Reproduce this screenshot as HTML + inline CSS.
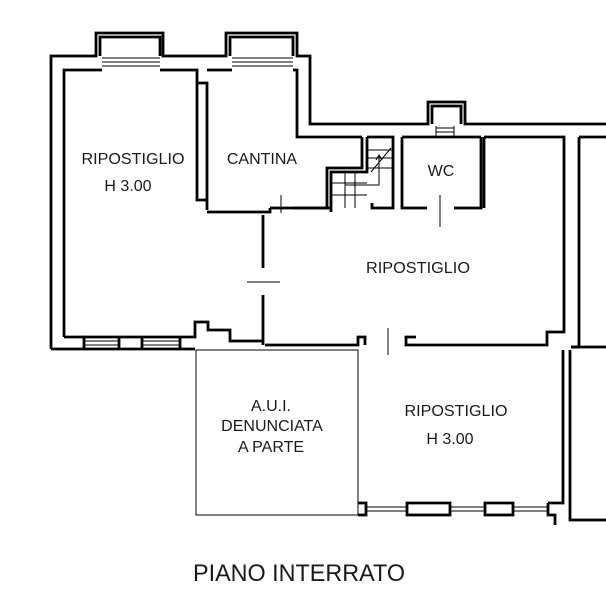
<!DOCTYPE html>
<html><head><meta charset="utf-8"><style>
html,body{margin:0;padding:0;background:#fff;width:606px;height:600px;overflow:hidden}
text{font-family:"Liberation Sans",sans-serif;fill:#1a1a1a}
</style></head><body>
<svg width="606" height="600" viewBox="0 0 606 600" xmlns="http://www.w3.org/2000/svg">
<g fill="none" stroke="#000" stroke-width="2.8" stroke-linejoin="miter">
<path d="M51,349 V56 H96 V33 H163 V56 H226 V33 H297 V56 H310 V124 H428 V102 H465 V124 H606"/>
<path d="M100,56 V37 H160 V56 M230,56 V37 H293 V56 M432,124 V106 H461 V124"/>
<path d="M64,337 V70 H102 M160,70 H197 V83 H207 V210 M197,83 V200 H207"/>
<path d="M207,70 H232 M293,70 V70 H297 V137 H362"/>
<path d="M362,137 V168 H327 V208 H270 M367,137 V172 H331 V212 M367,137 H393 V208 H372 V203"/>
<path d="M270,208 V212 H207" />
<path d="M292,208 H331"/>
<path d="M402,137 V208 H427 M436,137 H402 M454,208 H481 V137 M484,137 V208 M481,137 H436"/>
<path d="M484,137 H564 V332 H547 V345 H406 V337 H416"/>
<path d="M579,137 H606 M579,137 V347 H571"/>
<path d="M263,215 V268 M263,295 V345"/>
<path d="M265,345 H358 V337 H365 V345"/>
<path d="M51,349 H84 V337 H64 M180,337 H195 V322 H208 V330 H230 V341 H263 M180,337 V349 H195"/>
<path d="M84,337 H119 V349 H84 M142,337 H180 M119,337 H142 V349 H119 M142,349 H180"/>
<path d="M358,503 H366 V515 H358 M366,503 V515 M407,503 H450 V515 H407 Z M485,503 H513 V515 H485 Z M548,503 H563 V350 M548,503 V515 H555 V525 M570,350 V520 H606 M571,347 H606"/>
</g>
<g stroke="#000" stroke-width="1" fill="none">
<path d="M102,58 H160 M102,62 H160 M102,66 H160 M232,58 H293 M232,62 H293 M232,66 H293"/>
<path d="M436,126 V137 M454,126 V137 M436,128 H454 M436,132 H454"/>
<path d="M84,341 H119 M84,345 H119 M142,341 H180 M142,345 H180"/>
<path d="M366,507 H407 M366,511 H407 M450,507 H485 M450,511 H485 M513,507 H548 M513,511 H548"/>
<rect x="196" y="350" width="162" height="165"/>
<path d="M281,195 V213 M247,282 H280 M440,195 V227 M388,328 V355"/>
<path d="M331,195 H367 M331,183 H367 M367,168 H393 M367,158 H393 M367,150 H393 M371,172 L391,148 M345,172 V208 M355,172 V208 M345,185 H379 V155 M376,160 L379,155 L382,160 M331,195 H345"/>
</g>
<g font-size="16">
<text x="133" y="164" text-anchor="middle" textLength="103" lengthAdjust="spacingAndGlyphs">RIPOSTIGLIO</text>
<text x="128" y="191" text-anchor="middle">H 3.00</text>
<text x="262" y="164" text-anchor="middle">CANTINA</text>
<text x="441" y="176" text-anchor="middle">WC</text>
<text x="418" y="273" text-anchor="middle" textLength="104" lengthAdjust="spacingAndGlyphs">RIPOSTIGLIO</text>
<text x="271" y="411" text-anchor="middle">A.U.I.</text>
<text x="272" y="431" text-anchor="middle">DENUNCIATA</text>
<text x="271" y="452" text-anchor="middle">A PARTE</text>
<text x="456" y="416" text-anchor="middle" textLength="103" lengthAdjust="spacingAndGlyphs">RIPOSTIGLIO</text>
<text x="450" y="444" text-anchor="middle">H 3.00</text>
</g>
<text x="299" y="581" font-size="24" text-anchor="middle" textLength="212" lengthAdjust="spacingAndGlyphs">PIANO INTERRATO</text>
</svg>
</body></html>
